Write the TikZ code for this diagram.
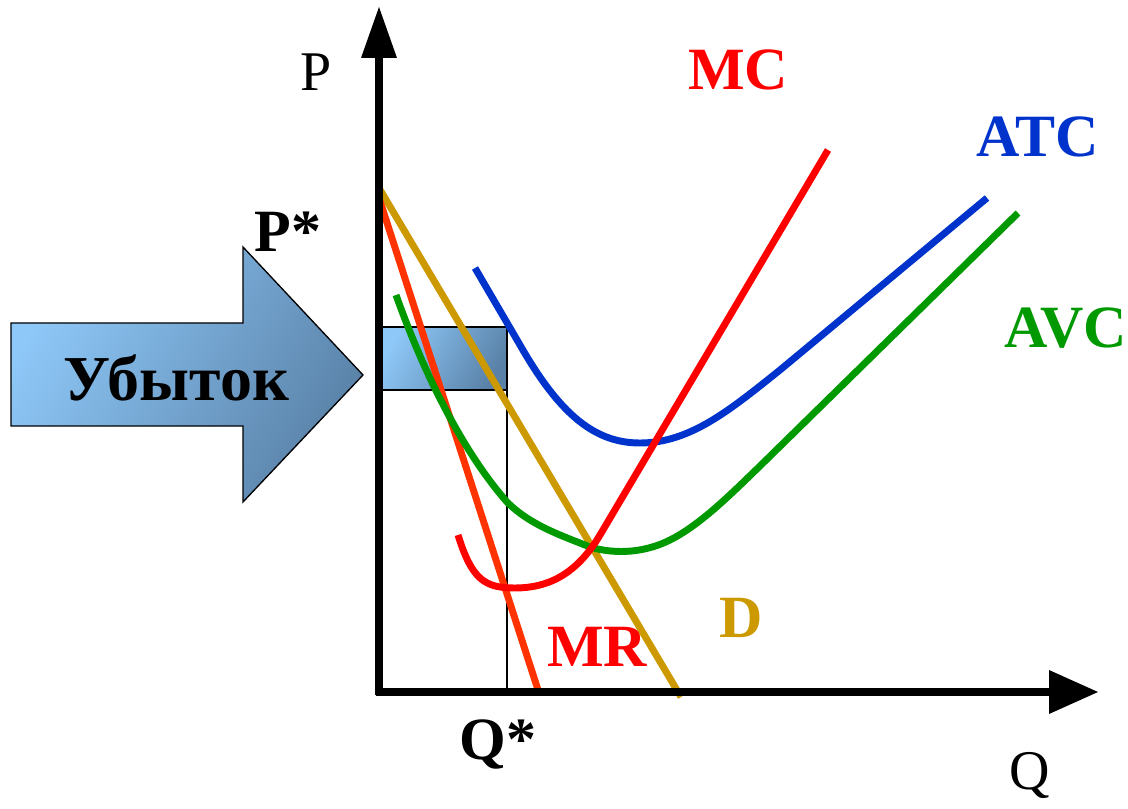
\documentclass[tikz,border=0pt]{standalone}
\usepackage{fontspec}
\setmainfont{Liberation Serif}
\definecolor{mccol}{HTML}{FF0000}
\definecolor{mrcol}{HTML}{FF3300}
\definecolor{dcol}{HTML}{CC9900}
\definecolor{atccol}{HTML}{0033CC}
\definecolor{avccol}{HTML}{009900}
\definecolor{lightb}{HTML}{8EC8F8}
\definecolor{darkb}{HTML}{5A82A8}
\tikzset{
  curve/.style={line width=5.2pt, line cap=butt},
  axis/.style={line width=6pt},
  lbl/.style={font=\fontsize{45}{50}\selectfont\bfseries, inner sep=0pt},
  axlbl/.style={font=\fontsize{42}{48}\selectfont, inner sep=0pt},
  grad/.style={left color=lightb, right color=darkb, shading angle=60, draw=black, line width=1pt}
}
\begin{document}
\begin{tikzpicture}[x=0.75pt,y=-0.75pt]
\useasboundingbox (0,0) rectangle (1128,809);
% loss arrow
\path[grad] (11,323) -- (243,323) -- (243,247) -- (363,375) -- (243,502) -- (243,426) -- (11,426) -- cycle;
\node[lbl, font=\fontsize{48}{52}\selectfont\bfseries] (loss) at (176,378) {Убыток};
% loss box
\path[grad] (379,327) rectangle (507,390);
\coordinate (qtop) at (507,390);
\coordinate (qbot) at (507,692);
\draw[line width=1.2pt] (qtop) -- (qbot);
% curves
\draw[curve, dcol] (379,188) -- (681,697);
\draw[curve, mrcol] (379,198) -- (539,693);
\draw[curve, avccol] (396,295) .. controls (430,390) and (470,460) .. (507,502) .. controls (530,525) and (560,535) .. (590,547) .. controls (610,553) and (640,555) .. (670,540) .. controls (700,525) and (730,495) .. (760,466) -- (1018,213);
\draw[curve, atccol] (475,268) -- (520,345) .. controls (560,415) and (595,443) .. (640,443) .. controls (690,443) and (730,410) .. (780,370) -- (987,198);
\draw[curve, mccol] (458,535) .. controls (472,580) and (485,588) .. (515,588) .. controls (545,588) and (575,577) .. (600,535) -- (828,150);
% axes
\coordinate (o) at (379,692);
\coordinate (ytop) at (379,7);
\coordinate (xend) at (1098,692);
\draw[axis] (379,695) -- (379,55);
\fill (ytop) -- (361,58) -- (397,58) -- cycle;
\draw[axis] (376,692) -- (1052,692);
\fill (xend) -- (1049,670) -- (1049,714) -- cycle;
% labels
\node[axlbl] (P) at (316,72) {P};
\node[axlbl] (Q) at (1030,775) {Q};
\node[lbl] (Ps) at (288,232) {P*};
\node[lbl] (Qs) at (498,744) {Q*};
\node[lbl, mccol] (MC) at (738,70) {MC};
\node[lbl, atccol] (ATC) at (1038,137) {ATC};
\node[lbl, avccol] (AVC) at (1066,328) {AVC};
\node[lbl, dcol] (D) at (741,618) {D};
\node[lbl, mccol] (MR) at (597,647) {MR};
\end{tikzpicture}
\end{document}
